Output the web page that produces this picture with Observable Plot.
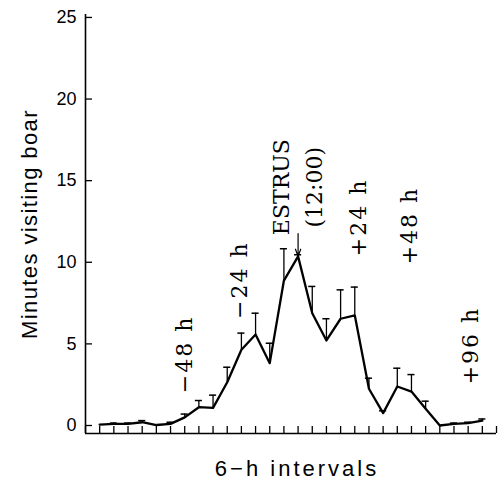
<!DOCTYPE html>
<html>
<head>
<meta charset="utf-8">
<script src="https://cdn.jsdelivr.net/npm/d3@7"></script>
<script src="https://cdn.jsdelivr.net/npm/@observablehq/plot@0.6"></script>
<style>
  html, body { margin: 0; padding: 0; background: #fff; }
  #chart svg { display: block; }
</style>
</head>
<body>
<div id="chart"></div>
<script>
// 6-h interval index (x) and mean minutes visiting boar (y), with SE above the mean
const intervals = [1,2,3,4,5,6,7,8,9,10,11,12,13,14,15,16,17,18,19,20,21,22,23,24,25,26,27,28];
const means  = [0.05,0.1,0.1,0.2,0.03,0.1,0.5,1.12,1.08,2.65,4.64,5.58,3.82,8.88,10.36,6.88,5.21,6.54,6.75,2.25,0.76,2.39,2.08,1.02,0.0,0.1,0.14,0.3];
const errors = [0,0.05,0.05,0.1,0,0.1,0.2,0.41,0.78,0.92,1.02,1.3,1.22,1.95,0.1,1.64,1.33,1.77,1.73,0.65,0.14,1.12,1.04,0.47,0,0.05,0.06,0.1];

const xTicks = [0,1,2,3,4,5,6,7,8,9,10,11,12,13,14,15,16,17,18,19,20,21,22,23,24,25,26,27,28,29];
const yTicks = [0,5,10,15,20,25];

const hourLabels = ["−48 h","−24 h","+24 h","+48 h","+96 h"];
const hourX = [7.0, 10.9, 19.3, 22.9, 27.2];
const hourY = [4.35, 8.9, 12.75, 12.25, 4.9];

const estrusLabel = ["ESTRUS\n(12:00)"];
const estrusX = [14.8];
const estrusY = [14.6];

const arrowX = [15];
const arrowFrom = [11.76];
const arrowTo = [10.36];

const xLabel = "6−h intervals";
const yLabel = "Minutes visiting boar";

const data = intervals.map((x, i) => ({x, y: means[i], e: errors[i]}));
const bars = data.filter(d => d.e > 0);
const hours = hourLabels.map((t, i) => ({t, x: hourX[i], y: hourY[i]}));
const estrus = estrusLabel.map((t, i) => ({t, x: estrusX[i], y: estrusY[i]}));
const arrows = arrowX.map((x, i) => ({x, y1: arrowFrom[i], y2: arrowTo[i]}));

const yMin = -0.49, yMax = 25.18;
const capHalf = 0.25;

const chart = Plot.plot({
  width: 504,
  height: 489,
  marginLeft: 85,
  marginRight: 8,
  marginTop: 14,
  marginBottom: 56,
  style: {fontFamily: "Liberation Sans, Arial, sans-serif", background: "#fff", color: "#000", overflow: "visible"},
  x: {domain: [0, 29], axis: null},
  y: {domain: [yMin, yMax], axis: null},
  marks: [
    Plot.ruleY([yMin], {x1: 0, x2: 29, stroke: "#000", strokeWidth: 1.6}),
    Plot.ruleX([0], {y1: yMin, y2: yMax, stroke: "#000", strokeWidth: 1.6}),
    Plot.axisX({ticks: xTicks, tickSize: -7, tickFormat: () => "", strokeWidth: 1.3, anchor: "bottom", label: null}),
    Plot.axisY({ticks: yTicks, tickSize: -7, tickFormat: () => "", strokeWidth: 1.3, anchor: "left", label: null}),
    Plot.axisY({ticks: yTicks, tickSize: 0, tickPadding: 9, anchor: "left", fontSize: 18, fill: "#000", label: null}),
    Plot.ruleX(bars, {x: "x", y1: "y", y2: d => d.y + d.e, stroke: "#000", strokeWidth: 1.3}),
    Plot.ruleY(bars, {y: d => d.y + d.e, x1: d => d.x - capHalf, x2: d => d.x + capHalf, stroke: "#000", strokeWidth: 1.5}),
    Plot.line(data, {x: "x", y: "y", stroke: "#000", strokeWidth: 2.3, strokeLinejoin: "round"}),
    Plot.arrow(arrows, {x1: "x", x2: "x", y1: "y1", y2: "y2", stroke: "#000", strokeWidth: 1.2, headLength: 12, headAngle: 40}),
    Plot.text(hours, {x: "x", y: "y", text: "t", rotate: -90, textAnchor: "middle", lineAnchor: "middle",
      fontFamily: "DejaVu Serif, Liberation Serif, serif", fontSize: 22, fill: "#000"}),
    Plot.text(estrus, {x: "x", y: "y", text: "t", rotate: -90, textAnchor: "middle", lineAnchor: "middle",
      fontFamily: "DejaVu Serif, Liberation Serif, serif", fontSize: 22, lineHeight: 1.5, fill: "#000"}),
    Plot.text([yLabel], {frameAnchor: "left", dx: -56, rotate: -90, textAnchor: "middle", lineAnchor: "middle",
      fontSize: 22, fill: "#000"}),
    Plot.text([xLabel], {frameAnchor: "bottom", dx: 6, dy: 35, textAnchor: "middle", lineAnchor: "middle",
      fontSize: 22, fill: "#000"})
  ]
});
const spacing = new Map([[yLabel, "1.4px"], [xLabel, "3px"]]);
hourLabels.forEach(t => spacing.set(t, "2px"));
d3.select(chart).selectAll("text").each(function() {
  const s = spacing.get(this.textContent);
  if (s) this.setAttribute("letter-spacing", s);
});
document.getElementById("chart").appendChild(chart);
</script>
</body>
</html>
